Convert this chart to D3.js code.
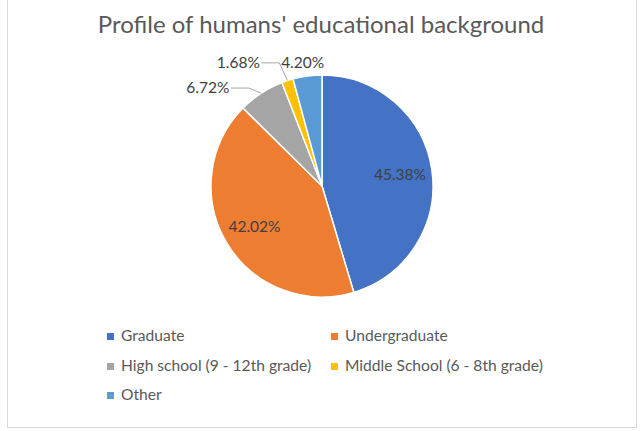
<!DOCTYPE html>
<html>
<head>
<meta charset="utf-8">
<script src="https://cdn.jsdelivr.net/npm/d3@7"></script>
<style>
body{margin:0;background:#fff;}
text{font-family:Lato,"Open Sans",sans-serif;}
</style>
</head>
<body>
<svg width="640" height="431"></svg>
<script>
var categories = ["Graduate","Undergraduate","High school (9 - 12th grade)","Middle School (6 - 8th grade)","Other"];
var values = [45.38,42.02,6.72,1.68,4.20];
var colors = ["#4472C4","#ED7D31","#A5A5A5","#FFC000","#5B9BD5"];
var title = "Profile of humans' educational background";

var width = 640, height = 431;
var cx = 322, cy = 186, r = 111;

var svg = d3.select("svg");

// chart frame
svg.append("rect")
    .attr("x",7.5).attr("y",-2)
    .attr("width",629).attr("height",429.5)
    .attr("fill","#fff")
    .attr("stroke","#d9d9d9");

svg.append("text")
    .attr("x",321).attr("y",33)
    .attr("text-anchor","middle")
    .attr("font-size",24)
    .attr("fill","#595959")
    .text(title);

var data = categories.map(function(c,i){ return {name:c,value:values[i],color:colors[i]}; });

var pie = d3.pie().sort(null).value(function(d){ return d.value; });
var arcs = pie(data);

var arc = d3.arc().innerRadius(0).outerRadius(r);
var labelArc = d3.arc().innerRadius(r*0.71).outerRadius(r*0.71);
var edgeArc = d3.arc().innerRadius(r).outerRadius(r);
var outerArc = d3.arc().innerRadius(r*1.12).outerRadius(r*1.12);

var g = svg.append("g").attr("transform","translate("+cx+","+cy+")");

g.selectAll("path.slice")
    .data(arcs)
    .enter()
    .append("path")
    .attr("class","slice")
    .attr("d",arc)
    .attr("fill",function(d){ return d.data.color; })
    .attr("stroke","#fff")
    .attr("stroke-width",1.5);

var fmt = function(v){ return v.toFixed(2)+"%"; };

// big slices: label inside
var inside = arcs.filter(function(d){ return d.data.value > 20; });
g.selectAll("text.in")
    .data(inside)
    .enter()
    .append("text")
    .attr("class","in")
    .attr("x",function(d){ return labelArc.centroid(d)[0]; })
    .attr("y",function(d){ return labelArc.centroid(d)[1]; })
    .attr("dy","0.35em")
    .attr("text-anchor","middle")
    .attr("font-size",15.5)
    .attr("fill","#404040")
    .text(function(d){ return fmt(d.data.value); });

// small slices: outside, pushed left so they do not collide
var shift = {2:[-46,6],3:[-45,-5],4:[-3,0]};
var outside = arcs.filter(function(d){ return d.data.value < 20; });
outside.forEach(function(d){
    var p = outerArc.centroid(d);
    var s = shift[d.index];
    d.lx = p[0]+s[0];
    d.ly = p[1]+s[1];
});

g.selectAll("polyline.lead")
    .data(outside.filter(function(d){ return d.index!=4; }))
    .enter()
    .append("polyline")
    .attr("class","lead")
    .attr("fill","none")
    .attr("stroke","#a6a6a6")
    .attr("stroke-width",1)
    .attr("points",function(d){
        var e = edgeArc.centroid(d);
        var end = d.lx+23;
        return [[e[0],e[1]],[end+18,d.ly],[end,d.ly]].map(function(p){ return p.join(","); }).join(" ");
    });

g.selectAll("text.out")
    .data(outside)
    .enter()
    .append("text")
    .attr("class","out")
    .attr("x",function(d){ return d.lx; })
    .attr("y",function(d){ return d.ly; })
    .attr("dy","0.35em")
    .attr("text-anchor","middle")
    .attr("font-size",15.5)
    .attr("fill","#404040")
    .text(function(d){ return fmt(d.data.value); });

// legend
var legX = [110,334], legY = [336,366,395];
var leg = svg.selectAll("g.leg")
    .data(data)
    .enter()
    .append("g")
    .attr("class","leg")
    .attr("transform",function(d,i){ return "translate("+legX[i%2]+","+legY[Math.floor(i/2)]+")"; });

leg.append("rect")
    .attr("x",-3).attr("y",-3)
    .attr("width",7).attr("height",7)
    .attr("fill",function(d){ return d.color; });

leg.append("text")
    .attr("x",11)
    .attr("dy","0.35em")
    .attr("font-size",15.6)
    .attr("fill","#595959")
    .text(function(d){ return d.name; });
</script>
</body>
</html>
